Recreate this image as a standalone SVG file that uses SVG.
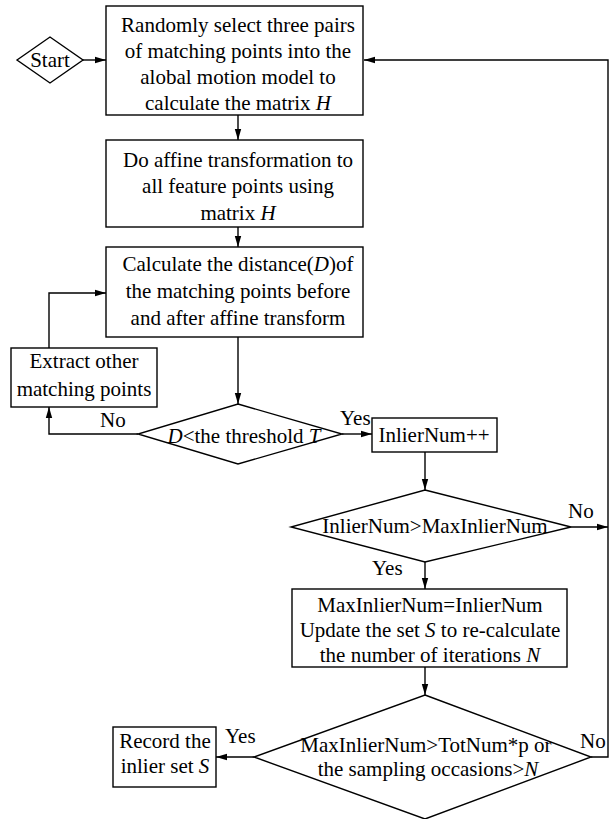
<svg xmlns="http://www.w3.org/2000/svg" width="612" height="819" viewBox="0 0 612 819">
<defs>
<marker id="ah" markerWidth="12" markerHeight="8" refX="11" refY="4" orient="auto" markerUnits="userSpaceOnUse">
<path d="M0,0.8 L11,4 L0,7.2 Z" fill="#000"/>
</marker>
<style>
.s{fill:#fff;stroke:#000;stroke-width:1.4}
.c{fill:none;stroke:#000;stroke-width:1.4;marker-end:url(#ah)}
.l{fill:none;stroke:#000;stroke-width:1.4}
text{font-family:"Liberation Serif","Times New Roman",serif;font-size:21px;fill:#000}
.m{text-anchor:middle}
.i{font-style:italic}
</style>
</defs>
<rect width="612" height="819" fill="#fff"/>
<g id="connectors">
<path class="c" d="M83,60 L106,60"/>
<path class="c" d="M238,115 L238,140"/>
<path class="c" d="M238,227 L238,247"/>
<path class="c" d="M238,337 L238,404"/>
<path class="c" d="M49,348 L49,293 L106,293"/>
<path class="c" d="M138,434 L49,434 L49,407"/>
<path class="c" d="M342,434 L372,434"/>
<path class="c" d="M425,452 L425,490"/>
<path class="c" d="M571,527 L608,527"/>
<path class="c" d="M425,562 L425,589"/>
<path class="c" d="M425,667 L425,695"/>
<path class="c" d="M254,757 L216,757"/>
<path class="c" d="M591,757 L608,757 L608,60 L364,60"/>
</g>
<g id="start">
<polygon class="s" points="17,60 50,37 83,60 50,83"/>
<text class="m" x="50" y="67">Start</text>
</g>
<g id="select">
<rect class="s" x="106" y="6" width="257" height="109"/>
<text class="m" x="238" y="32">Randomly select three pairs</text>
<text class="m" x="238" y="58">of matching points into the</text>
<text class="m" x="238" y="84">alobal motion model to</text>
<text class="m" x="238" y="110">calculate the matrix <tspan class="i">H</tspan></text>
</g>
<g id="affine">
<rect class="s" x="106" y="140" width="257" height="87"/>
<text class="m" x="238" y="167">Do affine transformation to</text>
<text class="m" x="238" y="193">all feature points using</text>
<text class="m" x="238" y="220">matrix <tspan class="i">H</tspan></text>
</g>
<g id="distance">
<rect class="s" x="106" y="247" width="257" height="90"/>
<text class="m" x="238" y="271">Calculate the distance(<tspan class="i">D</tspan>)of</text>
<text class="m" x="238" y="298">the matching points before</text>
<text class="m" x="238" y="325">and after affine transform</text>
</g>
<g id="extract">
<rect class="s" x="11" y="348" width="146" height="59"/>
<text class="m" x="84" y="368">Extract other</text>
<text class="m" x="84" y="396">matching points</text>
</g>
<g id="threshold">
<polygon class="s" points="238,404 342,434 238,464 138,434"/>
<text class="m" x="244" y="443"><tspan class="i">D</tspan>&lt;the threshold <tspan class="i">T</tspan></text>
<text x="100" y="427">No</text>
<text x="340" y="425">Yes</text>
</g>
<g id="inlierinc">
<rect class="s" x="372" y="418" width="125" height="34"/>
<text class="m" x="434" y="442">InlierNum++</text>
</g>
<g id="compare">
<polygon class="s" points="425,490 571,527 425,562 291,527"/>
<text class="m" x="435" y="533">InlierNum&gt;MaxInlierNum</text>
<text x="568" y="518">No</text>
<text x="372" y="575">Yes</text>
</g>
<g id="update">
<rect class="s" x="292" y="589" width="275" height="78"/>
<text class="m" x="430" y="612">MaxInlierNum=InlierNum</text>
<text class="m" x="430" y="637">Update the set <tspan class="i">S</tspan> to re-calculate</text>
<text class="m" x="430" y="662">the number of iterations <tspan class="i">N</tspan></text>
</g>
<g id="stop">
<polygon class="s" points="425,695 591,757 425,819 254,757"/>
<text class="m" x="426" y="752">MaxInlierNum&gt;TotNum*p or</text>
<text class="m" x="428" y="776">the sampling occasions&gt;<tspan class="i">N</tspan></text>
<text x="225" y="743">Yes</text>
<text x="580" y="748">No</text>
</g>
<g id="record">
<rect class="s" x="113" y="727" width="103" height="60"/>
<text class="m" x="165" y="748">Record the</text>
<text class="m" x="165" y="773">inlier set <tspan class="i">S</tspan></text>
</g>
</svg>
